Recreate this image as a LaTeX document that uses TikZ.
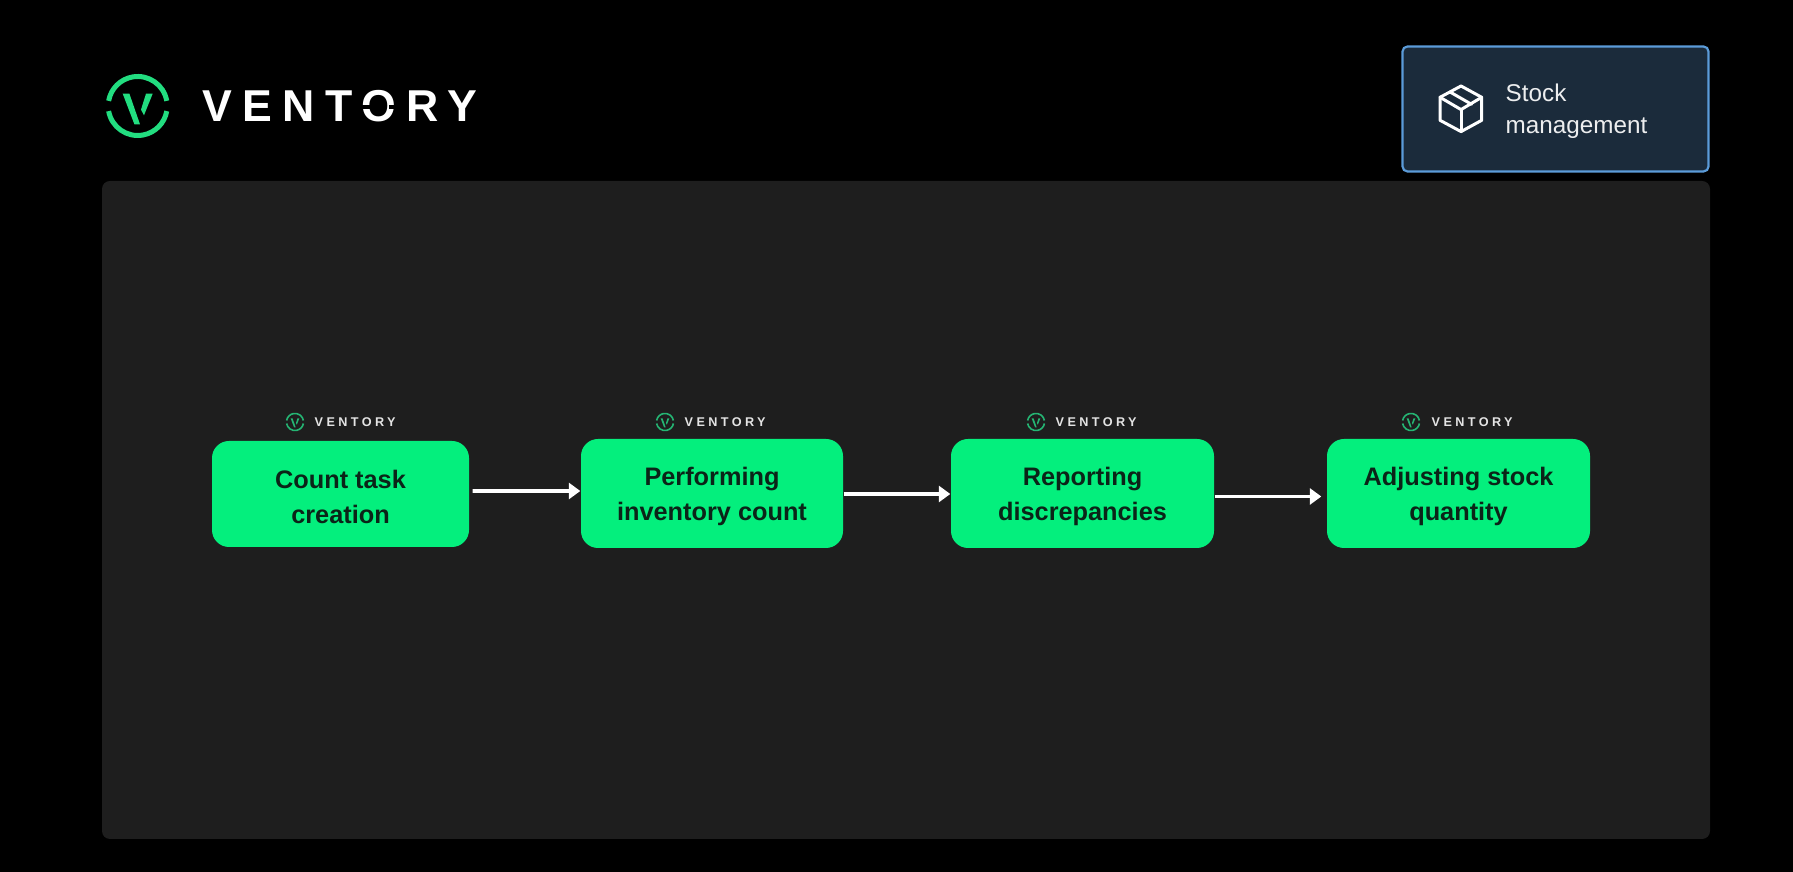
\documentclass[tikz,border=0pt]{standalone}
\usepackage{fontspec}
\usepackage{tikz}
\usetikzlibrary{arrows.meta}
\setmainfont{Liberation Sans}
\newfontfamily\logofont[LetterSpace=23]{Liberation Sans}
\newfontfamily\smalllogofont[LetterSpace=27]{Liberation Sans}

\definecolor{pagebg}{HTML}{000000}
\definecolor{panelbg}{HTML}{1E1E1E}
\definecolor{stepgreen}{HTML}{04EF7D}
\definecolor{ringgreen}{HTML}{22DD80}
\definecolor{smallring}{HTML}{25B573}
\definecolor{steptext}{HTML}{0B2418}
\definecolor{stockfill}{HTML}{1B2B3B}
\definecolor{stockline}{HTML}{5B9BD8}

\tikzset{
    stepbox/.style={fill=stepgreen, rounded corners=.17cm, minimum height=1.09cm, text=steptext, align=center, inner sep=0pt,
        text depth=-.01cm, font=\fontsize{7.2}{9.96}\selectfont\bfseries},
    flow/.style={draw=white, line width=.038cm, -{Triangle[length=.115cm, width=.16cm]}},
    cubeline/.style={draw=white, line width=.03cm, line join=round, line cap=round},
    pics/ringmark/.style={code={
        \draw[line width=#1, draw=\ringcolor] (10:.295) arc (10:170:.295);
        \draw[line width=#1, draw=\ringcolor] (190:.295) arc (190:350:.295);
        \fill[\ringcolor] (-.15,.123) -- (-.083,.123) -- (.023,-.183) -- (-.033,-.183) -- cycle;
        \fill[\ringcolor] (.083,.123) -- (.15,.123) -- (.063,-.093) -- (.033,-.037) -- cycle;
    }}
}

\begin{document}
\begin{tikzpicture}
    \useasboundingbox (0,0) rectangle (17.93,8.72);
    \fill[pagebg] (0,0) rectangle (17.93,8.72);
    \fill[panelbg, rounded corners=.08cm] (1.02,.33) rectangle (17.10,6.91);

    % main logo
    \def\ringcolor{ringgreen}
    \pic at (1.377,7.66) {ringmark=.05cm};
    \node (mainlogo) [anchor=west, inner sep=0pt, text=white] at (2.02,7.66) {\fontsize{12.7}{14}\logofont\bfseries VENTORY};
    \fill[pagebg] ([shift={(1.58,-.035)}]mainlogo.west) rectangle ++(.1,.04);
    \fill[pagebg] ([shift={(1.87,-.035)}]mainlogo.west) rectangle ++(.1,.04);

    % stock box
    \node (stockbox) [draw=stockline, fill=stockfill, line width=.022cm, rounded corners=.05cm, minimum width=3.06cm, minimum height=1.25cm] at (15.555,7.63) {};
    \node (stocktext) [anchor=west, inner sep=0pt, align=left, text=white!92!stockfill, font=\fontsize{6.9}{9.1}\selectfont] at (15.05,7.61) {Stock\\management};
    \draw[cubeline] (14.61,7.86) -- (14.817,7.747) -- (14.817,7.517) -- (14.61,7.404) -- (14.40,7.517) -- (14.40,7.747) -- cycle;
    \draw[cubeline] (14.40,7.747) -- (14.61,7.624) -- (14.817,7.747);
    \draw[cubeline] (14.61,7.624) -- (14.61,7.404);
    \draw[cubeline] (14.50,7.80) -- (14.715,7.677);

    % steps
    \node (counttask) [stepbox, minimum width=2.57cm, minimum height=1.06cm, text height=.6cm, text depth=0pt] at (3.405,3.78) {Count task\\creation};
    \node (perform) [stepbox, minimum width=2.62cm] at (7.12,3.785) {Performing\\inventory count};
    \node (report) [stepbox, minimum width=2.63cm] at (10.825,3.785) {Reporting\\discrepancies};
    \node (adjust) [stepbox, minimum width=2.63cm] at (14.585,3.785) {Adjusting stock\\quantity};

    % small logos
    \def\ringcolor{smallring}
    \foreach \name/\rx/\tx in {a/2.95/3.14, b/6.65/6.84, c/10.36/10.55, d/14.11/14.31}{
        \pic[scale=.29] at (\rx,4.50) {ringmark=.016cm};
        \node (logo\name) [anchor=west, inner sep=0pt, text=white!88!panelbg] at (\tx,4.50) {\fontsize{3.6}{4}\smalllogofont\bfseries VENTORY};
    }

    \draw[flow, shorten <=.03cm] ([yshift=.03cm]counttask.east) -- ([yshift=.025cm]perform.west);
    \draw[flow] ([yshift=-.005cm]perform.east) -- ([yshift=-.005cm]report.west);
    \draw[flow, shorten >=.05cm] ([yshift=-.03cm]report.east) -- ([yshift=-.03cm]adjust.west);
\end{tikzpicture}
\end{document}
